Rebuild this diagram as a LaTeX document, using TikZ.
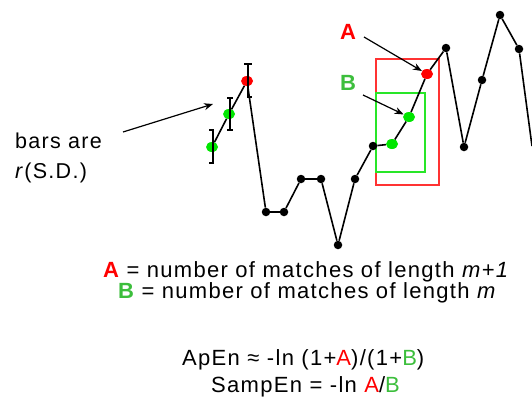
\documentclass[tikz,border=0pt]{standalone}
\usepackage{fontspec}
\setmainfont{Liberation Sans}
\newfontfamily\lblfont[LetterSpace=6]{Liberation Sans}
\usetikzlibrary{arrows.meta,shapes.geometric}
\definecolor{ptgreen}{RGB}{0,230,0}
\definecolor{ptred}{RGB}{255,0,0}
\definecolor{lblgreen}{RGB}{60,190,60}
\definecolor{boxred}{RGB}{255,50,50}
\definecolor{boxgreen}{RGB}{40,230,40}
\tikzset{
  blackdot/.style={circle,fill=black,inner sep=0pt,minimum size=8.5pt},
  greendot/.style={ellipse,fill=ptgreen,inner sep=0pt,minimum width=12pt,minimum height=10pt},
  reddot/.style={ellipse,fill=ptred,inner sep=0pt,minimum width=12pt,minimum height=10pt},
  series/.style={line width=1.6pt,black},
  pointer/.style={line width=1.2pt,-{Stealth[length=9pt,width=7pt]}},
  errbar/.style={line width=1.2pt},
  txt/.style={inner sep=0pt,font=\lblfont\fontsize{22}{26}\selectfont},
  sidetxt/.style={inner sep=0pt,font=\lblfont\fontsize{21.5}{26}\selectfont},
  biglbl/.style={inner sep=0pt,font=\lblfont\fontsize{22}{26}\selectfont\bfseries},
}
\begin{document}
\begin{tikzpicture}[x=1pt,y=-1pt]
\useasboundingbox (0,0) rectangle (532,399);
% boxes
\draw[boxred,line width=1.5pt] (376,59) rectangle (439,185);
\draw[boxgreen,line width=1.5pt] (376,93) rectangle (425,172);
% points
\node[greendot] (g1) at (212,147) {};
\node[greendot] (g2) at (229,114) {};
\node[reddot] (r1) at (247,81) {};
\node[blackdot] (p1) at (266,212) {};
\node[blackdot] (p2) at (284,212) {};
\node[blackdot] (p3) at (301,179) {};
\node[blackdot] (p4) at (321,179) {};
\node[blackdot] (p5) at (338,245) {};
\node[blackdot] (p6) at (355,179) {};
\node[blackdot] (p7) at (373,146) {};
\node[greendot] (g3) at (392,144) {};
\node[greendot] (g4) at (409,117) {};
\node[reddot] (r2) at (427,74) {};
\node[blackdot] (p8) at (446,48) {};
\node[blackdot] (p9) at (464,147) {};
\node[blackdot] (p10) at (482,80) {};
\node[blackdot] (p11) at (500,15) {};
\node[blackdot] (p12) at (519,49) {};
\coordinate (pend) at (532,146);
% series lines
\draw[series] (g1) -- (g2);
\draw[series] (g2) -- (r1);
\draw[series] (r1) -- (p1);
\draw[series] (p1) -- (p2);
\draw[series] (p2) -- (p3);
\draw[series] (p3) -- (p4);
\draw[series] (p4) -- (p5);
\draw[series] (p5) -- (p6);
\draw[series] (p6) -- (p7);
\draw[series] (p7) -- (g3);
\draw[series] (g3) -- (g4);
\draw[series] (g4) -- (r2);
\draw[series] (r2) -- (p8);
\draw[series] (p8) -- (p9);
\draw[series] (p9) -- (p10);
\draw[series] (p10) -- (p11);
\draw[series] (p11) -- (p12);
\draw[series] (p12) -- (pend);
% error bars
\draw[errbar] (209,130) -- (213,130) -- (213,163) -- (209,163);
\draw[errbar] (227,98) -- (233,98) (230,98) -- (230,130) (227,130) -- (233,130);
\draw[errbar] (244,64) -- (252,64) (248,64) -- (248,97) -- (252,97);
% labels
\node[sidetxt,anchor=base west] (bars1) at (15,148) {bars are};
\node[sidetxt,anchor=base west] (bars2) at (15,178) {\textit{r}(S.D.)};
\coordinate (barsend) at (123,132);
\node[biglbl,text=ptred,anchor=base west] (lA) at (340,39) {A};
\node[biglbl,text=lblgreen,anchor=base west] (lB) at (340,90) {B};
\coordinate (Astart) at (364,37);
\coordinate (Bstart) at (363,95);
\draw[pointer] (barsend) -- (213,104);
\draw[pointer] (Astart) -- (r2);
\draw[pointer] (Bstart) -- (g4);
% bottom text
\node[txt,anchor=base west] (defA) at (103,277) {\textbf{\textcolor{ptred}{A}} = number of matches of length \textit{m+1}};
\node[txt,anchor=base west] (defB) at (118,298) {\textbf{\textcolor{lblgreen}{B}} = number of matches of length \textit{m}};
\node[txt,anchor=base west] (apen) at (182,365) {ApEn ≈ -ln (1+\textcolor{ptred}{A})/(1+\textcolor{lblgreen}{B})};
\node[txt,anchor=base west] (sampen) at (211,392) {SampEn = -ln \textcolor{ptred}{A}/\textcolor{lblgreen}{B}};
\end{tikzpicture}
\end{document}
